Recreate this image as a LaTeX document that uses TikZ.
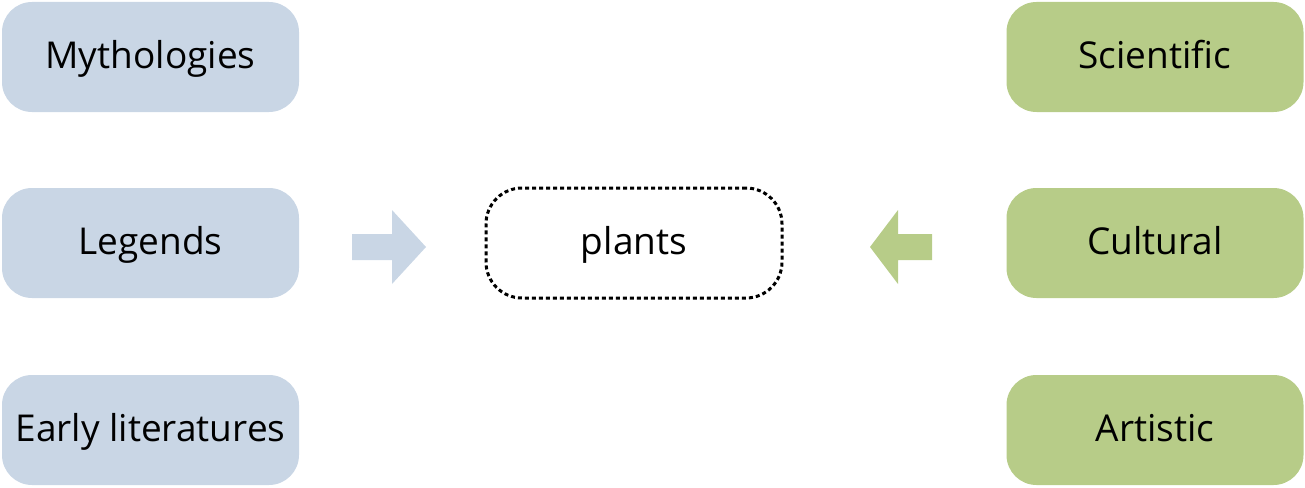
\documentclass[tikz,border=0pt]{standalone}
\usepackage{fontspec}
\setmainfont{Open Sans}
\definecolor{boxblue}{RGB}{201,214,229}
\definecolor{boxgreen}{RGB}{183,204,136}
\begin{document}
\begin{tikzpicture}[x=1pt,y=-1pt,
  src/.style={rounded corners=30pt,minimum width=297pt,minimum height=110pt,inner sep=0pt,text height=28pt,text depth=6pt,font=\fontsize{37}{44}\selectfont},
  bluebox/.style={src,fill=boxblue},
  greenbox/.style={src,fill=boxgreen},
  centre/.style={draw=black,dash pattern=on 4pt off 3pt,line width=3pt,rounded corners=36pt,minimum width=296pt,minimum height=110pt,inner sep=0pt,text height=28pt,text depth=6pt,font=\fontsize{37}{44}\selectfont}]
\useasboundingbox (0,0) rectangle (1305,487);
\node[bluebox] (myth) at (150.5,57) {Mythologies};
\node[bluebox] (leg) at (150.5,243) {Legends};
\node[bluebox] (early) at (150.5,430) {Early literatures};
\node[greenbox] (sci) at (1155,57) {Scientific};
\node[greenbox] (cult) at (1155,243) {Cultural};
\node[greenbox] (art) at (1155,430) {Artistic};
\node[centre] (plants) at (634,243) {plants};
\fill[boxblue] (352,234) -- (392,234) -- (392,210) -- (426,247) -- (392,284) -- (392,260) -- (352,260) -- cycle;
\fill[boxgreen] (932,234) -- (898,234) -- (898,210) -- (870,247) -- (898,284) -- (898,260) -- (932,260) -- cycle;
\end{tikzpicture}
\end{document}
